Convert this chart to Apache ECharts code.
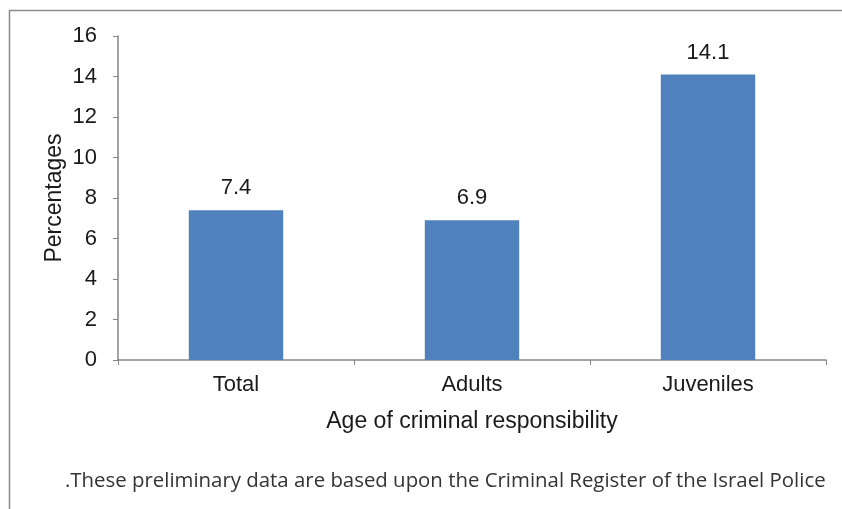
<!DOCTYPE html>
<html>
<head>
<meta charset="utf-8">
<script src="https://cdn.jsdelivr.net/npm/echarts@6/dist/echarts.min.js"></script>
<style>
html,body{margin:0;padding:0;background:#fff;}
#chart{width:842px;height:509px;}
</style>
</head>
<body>
<div id="chart"></div>
<script>
const categories = ['Total', 'Adults', 'Juveniles'];
const values = [7.4, 6.9, 14.1];
const yTicks = [0, 2, 4, 6, 8, 10, 12, 14, 16];
const xAxisTitle = 'Age of criminal responsibility';
const yAxisTitle = 'Percentages';
const footnote = '.These preliminary data are based upon the Criminal Register of the Israel Police';

const chart = echarts.init(document.getElementById('chart'));
const axisColor = '#868686';
const txt = '#1a1a1a';
const font = 'Arial, "Liberation Sans", sans-serif';
chart.setOption({
  animation: false,
  grid: {left: 118, top: 36, right: 16, bottom: 149},
  xAxis: {
    type: 'category',
    data: categories,
    axisLine: {lineStyle: {color: axisColor, width: 1.5}},
    axisTick: {show: true, alignWithLabel: false, length: 5, lineStyle: {color: axisColor}},
    axisLabel: {color: txt, fontSize: 22, fontFamily: font, margin: 14},
    name: xAxisTitle,
    nameLocation: 'middle',
    nameGap: 50,
    nameMoveOverlap: false,
    nameTextStyle: {color: txt, fontSize: 23, fontFamily: font}
  },
  yAxis: {
    type: 'value',
    min: yTicks[0],
    max: yTicks[yTicks.length - 1],
    interval: yTicks[1] - yTicks[0],
    splitLine: {show: false},
    axisLine: {show: true, lineStyle: {color: axisColor, width: 1.5}},
    axisTick: {show: true, length: 5, lineStyle: {color: axisColor}},
    axisLabel: {color: txt, fontSize: 22, fontFamily: font, margin: 21},
    name: yAxisTitle,
    nameLocation: 'middle',
    nameGap: 52,
    nameMoveOverlap: false,
    nameRotate: 90,
    nameTextStyle: {color: txt, fontSize: 23, fontFamily: font}
  },
  series: [{
    type: 'bar',
    data: values,
    barWidth: '40%',
    itemStyle: {color: '#4F81BD'},
    label: {
      show: true,
      position: 'top',
      distance: 11,
      color: txt,
      fontSize: 22,
      fontFamily: font,
      formatter: p => p.value.toFixed(1)
    }
  }],
  graphic: [
    {
      type: 'polyline',
      shape: {points: [[9.5, 509], [9.5, 10.5], [842, 10.5]]},
      style: {stroke: '#8a8a8a', lineWidth: 1.5, fill: null}
    },
    {
      type: 'text',
      x: 65,
      y: 481,
      style: {
        text: footnote,
        fill: '#333',
        fontSize: 20.4,
        fontFamily: '"Open Sans", sans-serif',
        verticalAlign: 'middle'
      }
    }
  ]
});
</script>
</body>
</html>
